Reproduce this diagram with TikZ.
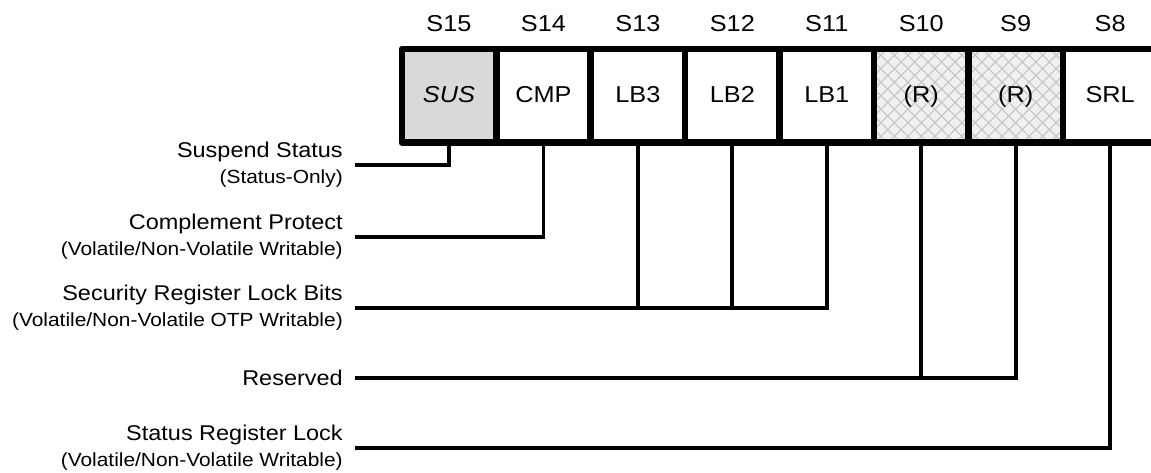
\documentclass[tikz,border=0pt]{standalone}
\usepackage{fontspec}
\setmainfont{Liberation Sans}[FakeStretch=1.1]
\definecolor{susgray}{HTML}{D9D9D9}
\definecolor{resgray}{HTML}{F0F0F0}
\definecolor{hatchgray}{HTML}{C4C4C4}
\begin{document}
\begin{tikzpicture}[x=0.75pt,y=-0.75pt,
  regcell/.style={draw, line width=4.9pt, line join=round,
    minimum width=70.84pt, minimum height=70.1pt, inner sep=0pt,
    text height=12.4pt, text depth=2.0pt,
    font=\fontsize{17.25}{20}\selectfont},
  bitname/.style={anchor=base, inner sep=0pt,
    font=\fontsize{17.25}{20}\selectfont},
  fieldlabel/.style={anchor=east, align=right, inner xsep=9pt, inner ysep=0pt,
    font=\fontsize{16}{19.5}\selectfont},
  sub/.style={},
  reserved/.style={fill=resgray, path picture={
    \foreach \k in {-9,...,9}{
      \draw[hatchgray, line width=0.8pt]
        (path picture bounding box.center) ++(\k*13.5-70,-70) -- ++(140,140);
      \draw[hatchgray, line width=0.8pt]
        (path picture bounding box.center) ++(\k*13.5-70,70) -- ++(140,-140);
    }}},
  wire/.style={line width=2.8pt},
]
\clip (0,0) rectangle (1151,472);

% register cells S15 .. S8
\node[regcell, fill=susgray] (c15) at (449.00,95.75) {\itshape SUS};
\node[regcell] (c14) at (543.45,95.75) {CMP};
\node[regcell] (c13) at (637.90,95.75) {LB3};
\node[regcell] (c12) at (732.35,95.75) {LB2};
\node[regcell] (c11) at (826.80,95.75) {LB1};
\node[regcell, reserved] (c10) at (921.25,95.75) {(R)};
\node[regcell, reserved] (c9) at (1015.70,95.75) {(R)};
\node[regcell] (c8) at (1110.15,95.75) {SRL};

% bit numbers
\node[bitname] (b15) at (449.00,31.7) {S15};
\node[bitname] (b14) at (543.45,31.7) {S14};
\node[bitname] (b13) at (637.90,31.7) {S13};
\node[bitname] (b12) at (732.35,31.7) {S12};
\node[bitname] (b11) at (826.80,31.7) {S11};
\node[bitname] (b10) at (921.25,31.7) {S10};
\node[bitname] (b9) at (1015.70,31.7) {S9};
\node[bitname] (b8) at (1110.15,31.7) {S8};

% field descriptions
\node[fieldlabel] (sus) at (355,165) {Suspend Status\\
  {\fontsize{14.25}{19.5}\selectfont (Status-Only)}};
\node[fieldlabel] (cmp) at (355,237) {Complement Protect\\
  {\fontsize{14.25}{19.5}\selectfont (Volatile/Non-Volatile Writable)}};
\node[fieldlabel] (lb) at (355,307.7) {Security Register Lock Bits\\
  {\fontsize{14.25}{19.5}\selectfont (Volatile/Non-Volatile OTP Writable)}};
\node[fieldlabel] (res) at (355,378) {Reserved};
\node[fieldlabel] (srl) at (355,448) {Status Register Lock\\
  {\fontsize{14.25}{19.5}\selectfont (Volatile/Non-Volatile Writable)}};

% connectors
\draw[wire] (c15.south) |- (sus.east);
\draw[wire] (c14.south) |- (cmp.east);
\draw[wire] (c11.south) |- (lb.east);
\draw[wire] (c12.south) -- (c12.south |- lb.east);
\draw[wire] (c13.south) -- (c13.south |- lb.east);
\draw[wire] (c9.south) |- (res.east);
\draw[wire] (c10.south) -- (c10.south |- res.east);
\draw[wire] (c8.south) |- (srl.east);
\end{tikzpicture}
\end{document}
